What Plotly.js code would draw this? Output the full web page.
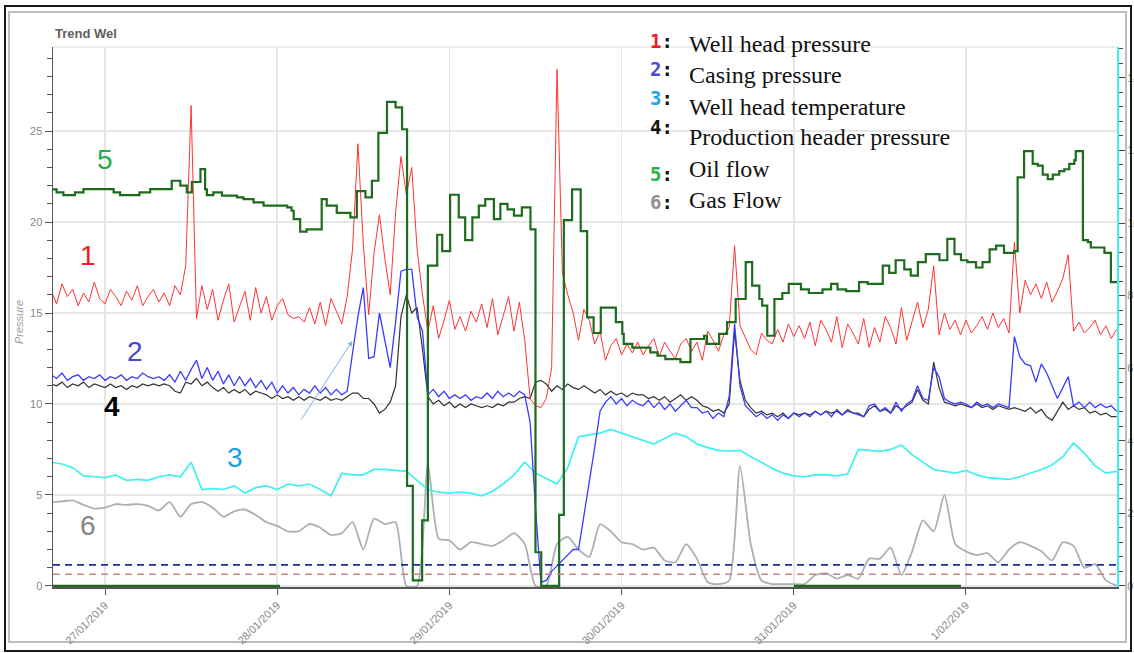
<!DOCTYPE html>
<html><head><meta charset="utf-8">
<script src="https://cdn.plot.ly/plotly-3.0.1.min.js"></script>
<style>
html,body{margin:0;padding:0;background:#fff;}
#wrap{position:relative;width:1134px;height:653px;overflow:hidden;background:#fff;}
#chart{position:absolute;left:0;top:0;width:1134px;height:653px;}
#outer{position:absolute;left:4px;top:5px;width:1128px;height:647px;border:2px solid #1a1a1a;box-sizing:border-box;pointer-events:none;}
#inner{position:absolute;left:8px;top:11px;width:1119px;height:632px;border:2px solid #bdbdbd;box-sizing:border-box;pointer-events:none;}
</style></head>
<body><div id="wrap"><div id="inner"></div><div id="chart"></div><div id="outer"></div></div>
<script>
// ---- time grids (hours from 27/01/2019 00:00) ----
const fastStart = -7.5, fastStep = 0.75, fastCount = 199;
const slowStart = -7.5, slowStep = 1.5, slowCount = 100;

// 1: Well head pressure
const wellHeadPressure = [
16.2,15.5,16.6,15.9,16.3,15.4,16.1,15.6,16.7,15.8,
15.5,16.3,15.9,15.4,16.2,15.7,16.5,15.4,15.9,16.3,
15.6,16.1,15.4,16.5,16.0,17.6,26.4,14.7,16.5,15.2,
16.3,14.6,15.7,16.6,14.5,15.4,16.2,14.6,16.4,15.0,
15.9,14.6,15.4,15.8,14.9,14.7,14.8,14.5,15.3,14.4,
15.6,14.3,15.8,15.1,14.4,15.9,18.5,24.3,18.8,14.9,
18.3,20.4,18.0,16.0,20.5,23.6,21.5,23.0,18.5,16.0,
14.0,15.4,13.6,14.6,15.7,14.1,14.8,14.0,15.1,14.5,
15.5,14.2,15.8,13.8,14.9,15.9,14.0,15.6,13.5,10.3,
9.9,9.8,10.3,12.0,28.4,17.2,16.0,15.0,13.5,15.2,
14.6,13.3,14.0,12.4,13.2,13.6,12.7,13.3,12.8,13.4,
12.7,13.2,13.6,12.6,13.4,12.9,12.5,13.3,13.6,12.9,
13.4,12.4,14.0,13.5,12.9,13.8,14.2,18.7,14.3,13.6,
13.0,12.7,13.9,13.5,13.3,14.1,13.4,14.4,13.7,14.3,
13.6,14.5,13.2,14.6,14.1,13.4,14.8,13.1,14.4,13.9,
13.3,14.7,13.1,14.2,13.4,14.8,14.2,13.3,15.3,13.5,
14.6,15.6,14.2,15.2,17.6,13.8,15.0,14.1,14.6,13.8,
14.6,13.9,14.3,14.8,14.1,15.0,14.2,14.7,13.9,18.9,
15.0,16.8,16.0,16.6,15.8,16.7,15.6,16.2,16.9,18.2,
14.0,14.5,13.9,14.2,14.6,13.8,14.3,13.6,14.1];

// 2: Casing pressure
const casingPressure = [
11.6,11.4,11.7,11.3,11.5,11.6,11.3,11.5,11.4,11.6,
11.3,11.5,11.4,11.6,11.3,11.5,11.4,11.7,11.5,11.4,
11.5,11.3,11.6,11.2,11.8,11.3,11.9,12.4,11.4,12.0,
11.3,11.8,11.1,11.6,11.0,11.5,11.0,11.4,10.9,11.3,
10.8,11.2,10.6,11.0,10.6,10.9,10.5,10.8,10.6,11.0,
10.6,10.9,10.5,10.8,10.5,10.7,12.8,14.8,16.4,12.5,
12.6,15.0,13.5,12.0,14.5,17.3,17.4,17.4,14.8,14.0,
10.5,10.8,10.4,10.7,10.3,10.5,10.3,10.5,10.2,10.4,
10.3,10.6,10.3,10.7,10.4,10.6,10.4,10.7,10.5,9.0,
4.3,0.2,0.3,0.8,1.1,1.4,1.7,2.0,2.0,3.8,
5.7,7.6,9.6,10.1,10.4,10.0,10.3,9.9,10.2,10.0,
9.9,10.2,9.8,10.1,9.7,10.0,9.6,9.9,10.2,9.8,
9.8,9.5,9.6,9.2,9.5,9.3,10.4,14.4,11.0,9.9,
9.6,9.3,9.5,9.2,9.4,9.1,9.4,9.2,9.5,9.3,
9.5,9.3,9.6,9.4,9.6,9.3,9.7,9.4,9.6,9.5,
9.4,9.3,9.9,10.0,9.6,9.8,9.5,10.1,9.6,10.0,
10.2,11.0,10.3,10.2,12.0,11.5,10.3,10.1,10.0,10.1,
10.0,9.8,10.1,9.9,10.0,9.8,10.0,9.9,9.8,13.7,
12.6,12.2,12.1,11.2,12.2,11.7,11.0,10.3,10.9,11.5,
9.9,10.1,9.8,10.1,9.8,10.0,9.8,9.9,9.6];

// 4: Production header pressure
const headerPressure = [
11.1,11.0,11.2,10.9,11.1,11.0,11.2,10.9,11.1,11.0,
10.9,11.1,10.9,11.0,10.8,11.0,10.9,11.1,11.0,11.1,
11.0,11.1,11.0,10.7,10.6,11.2,11.1,11.4,11.0,11.2,
10.9,10.7,10.9,10.6,10.8,10.6,10.8,10.5,10.7,10.6,
10.5,10.3,10.5,10.3,10.4,10.2,10.4,10.2,10.4,10.3,
10.2,10.4,10.2,10.3,10.2,10.4,10.6,10.6,10.3,10.3,
10.0,9.5,9.7,10.1,11.0,14.8,16.0,15.0,15.3,13.0,
10.4,10.0,10.2,9.9,10.1,9.8,10.0,9.8,10.0,9.9,
9.8,9.9,9.8,10.0,9.9,10.1,10.1,10.3,10.4,10.3,
11.2,11.3,11.1,10.7,11.0,10.8,11.1,10.9,10.8,11.0,
10.8,10.6,10.8,10.5,10.7,10.5,10.6,10.4,10.6,10.5,
10.5,10.3,10.4,10.2,10.4,10.1,10.3,10.5,10.2,10.4,
10.2,9.9,9.8,9.6,9.7,9.5,10.0,14.0,11.3,10.2,
9.8,9.5,9.6,9.4,9.5,9.3,9.5,9.2,9.5,9.4,
9.5,9.4,9.6,9.4,9.6,9.5,9.6,9.4,9.7,9.5,
9.5,9.3,9.7,9.9,9.6,9.7,9.5,9.9,9.7,9.9,
10.1,10.8,10.2,10.0,12.3,10.9,10.1,10.0,9.9,10.0,
9.9,9.8,10.0,9.8,9.9,9.7,9.9,9.8,9.7,9.8,
9.7,9.6,9.8,9.5,9.7,9.3,9.1,9.6,10.1,9.7,
9.9,9.7,9.8,9.5,9.6,9.4,9.5,9.3,9.3];

// 3: Well head temperature
const wellHeadTemperature = [
6.8,6.7,6.5,6.05,6.0,5.95,6.1,5.8,5.85,5.8,
6.0,6.1,6.0,6.8,5.3,5.35,5.3,5.5,5.1,5.4,
5.5,5.3,5.6,5.5,5.6,5.3,4.95,6.2,6.1,6.1,
6.4,6.4,6.35,6.3,5.8,5.3,5.15,5.1,5.15,5.1,
4.95,5.2,5.6,6.1,6.8,6.2,5.9,5.6,6.5,8.2,
8.3,8.4,8.6,8.4,8.2,8.0,7.8,8.1,8.4,8.2,
7.8,7.6,7.45,7.4,7.45,7.1,6.8,6.45,6.2,6.05,
6.0,6.1,6.1,6.05,6.15,7.5,7.45,7.4,7.5,7.75,
7.2,6.8,6.4,6.3,6.2,6.35,6.1,5.95,5.9,5.85,
6.0,6.2,6.4,6.65,7.1,7.85,7.3,6.6,6.2,6.3];

// 6: Gas flow
const gasFlow = [
4.6,4.65,4.7,4.45,4.25,4.3,4.5,4.45,4.5,4.4,
4.15,4.6,3.8,4.5,4.6,4.3,3.8,4.1,4.2,3.9,
3.5,3.3,3.0,3.0,3.4,3.2,2.8,2.9,3.5,2.0,
3.7,3.4,3.5,0.0,0.0,6.7,2.6,2.5,2.0,2.4,
2.3,2.2,2.5,2.9,2.3,0.0,0.0,2.3,2.7,2.0,
1.6,3.4,3.0,2.4,2.3,2.0,2.1,1.4,1.3,2.3,
1.5,0.2,0.1,0.3,6.6,2.3,0.3,0.1,0.1,0.1,
0.1,0.6,0.7,0.4,0.6,0.4,1.5,1.5,2.1,0.6,
1.9,3.6,3.0,5.0,2.3,1.9,1.7,1.8,1.3,2.0,
2.4,2.2,1.9,1.4,2.4,2.2,1.0,1.2,0.3,0.0];

// 5: Oil flow (step changes)
const oilFlowHours = [-7.3,-6.75,-5.8,-4.2,-3.0,1.2,2.1,4.8,6.3,9.3,
10.5,11.4,12.1,13.3,13.95,14.2,15.1,16.3,18.4,19.3,
20.7,22.1,25.4,26.0,26.3,27.2,28.1,30.2,30.9,32.3,
34.2,35.1,36.3,37.2,38.1,39.3,40.5,41.4,42.1,42.9,
44.2,45.0,46.3,47.0,48.1,49.3,50.2,51.2,52.1,53.0,
54.2,55.1,56.1,57.0,58.1,59.3,60.0,60.8,63.3,63.95,
65.1,66.3,67.2,68.1,69.1,71.2,72.1,72.3,73.5,76.0,
77.0,78.1,80.2,81.6,83.5,83.9,85.6,86.7,87.9,89.3,
90.2,91.2,91.6,92.3,93.3,94.4,95.3,97.0,98.1,100.0,
101.2,102.1,103.3,105.1,106.3,108.4,109.3,110.2,111.4,112.3,
113.3,114.4,116.3,117.4,118.4,119.3,120.2,121.4,122.3,123.3,
124.2,125.3,126.7,127.2,128.1,129.3,130.0,130.7,131.4,132.1,
133.0,133.7,134.4,135.1,135.3,136.3,137.0,137.4,139.3,140.2,
141.2];
const oilFlow = [21.8,21.63,21.48,21.63,21.81,21.63,21.48,21.63,21.81,22.27,
22.0,21.63,22.2,22.91,21.8,21.48,21.63,21.45,21.35,21.26,
21.08,20.9,20.8,20.62,20.16,19.47,19.6,21.26,20.9,20.5,
20.26,21.7,21.35,22.27,24.9,26.6,26.3,25.1,5.5,0.3,
3.6,17.6,19.3,18.4,21.5,20.26,19.0,20.26,20.9,21.26,
20.16,21.0,20.7,20.35,20.8,19.6,1.85,0.0,3.9,20.1,
21.8,19.5,14.76,13.9,15.3,14.5,13.85,13.3,13.1,12.84,
12.65,12.47,12.3,13.57,13.75,13.3,13.85,14.5,15.77,17.8,
16.5,15.77,15.4,13.75,15.77,16.1,16.6,16.3,16.1,16.3,
16.6,16.3,16.2,16.7,16.6,17.6,17.2,17.9,17.4,17.05,
17.8,18.24,17.9,19.07,18.24,17.9,17.8,17.5,17.8,18.5,
18.7,18.3,18.4,22.45,23.9,23.2,23.1,22.6,22.36,22.6,
22.8,22.9,23.2,23.4,23.9,19.0,18.9,18.6,18.3,16.7,
16.7];

// zero-level flow segments along the bottom
const zeroFlowHours = [-7.25, 24.4, null, 96.0, 119.3];
const zeroFlow = [0, 0, null, 0, 0];

// limit lines (right axis)
const limitHours = [-7.25, 141.05];
const upperLimit = [0.58, 0.58];
const lowerLimit = [0.32, 0.32];

// axis ticks
const dayTicks = ['2019-01-27','2019-01-28','2019-01-29','2019-01-30','2019-01-31','2019-02-01'];
const dayLabels = ['27/01/2019','28/01/2019','29/01/2019','30/01/2019','31/01/2019','1/02/2019'];
const xRangeHours = [-7.25, 141.05];

// ---- helpers ----
const T0 = Date.UTC(2019,0,27);
function toDate(h){ if(h===null) return null; return new Date(T0 + h*3600000).toISOString().slice(0,19).replace('T',' '); }
function grid(s, d, n){ const a=[]; for(let i=0;i<n;i++) a.push(toDate(s+d*i)); return a; }
const fastX = grid(fastStart, fastStep, fastCount);
const slowX = grid(slowStart, slowStep, slowCount);

const SANS = 'Liberation Sans, Arial, sans-serif';
const SERIF = 'Liberation Serif, Times New Roman, serif';
const MONO = 'DejaVu Sans Mono, monospace';
// pixel -> paper helpers (plot area 53..1117 x 47..587)
const PX = p => (p-53)/1064;
const PY = p => (587-p)/540;

const traces = [
 {x: limitHours.map(toDate), y: upperLimit, yaxis:'y2', mode:'lines', line:{color:'#1f2f9a', width:1.6, dash:'7px,5px'}, hoverinfo:'skip'},
 {x: limitHours.map(toDate), y: lowerLimit, yaxis:'y2', mode:'lines', line:{color:'#c98585', width:1.6, dash:'7px,5px'}, hoverinfo:'skip'},
 {x: slowX, y: gasFlow, mode:'lines', line:{color:'#a9b0b7', width:1.8, shape:'spline', smoothing:0.6}},
 {x: slowX, y: wellHeadTemperature, mode:'lines', line:{color:'#3ff0f0', width:1.7}},
 {x: fastX, y: headerPressure, mode:'lines', line:{color:'#333333', width:1.2}},
 {x: fastX, y: casingPressure, mode:'lines', line:{color:'#3b3bff', width:1.3}},
 {x: fastX, y: wellHeadPressure, mode:'lines', line:{color:'#ff3333', width:1.0}},
 {x: zeroFlowHours.map(toDate), y: zeroFlow, mode:'lines', line:{color:'#1e6b1e', width:2.2}, connectgaps:false},
 {x: oilFlowHours.map(toDate), y: oilFlow, mode:'lines', line:{color:'#1e6b1e', width:2.2, shape:'hv'}}
];

const annotations = [];
annotations.push({xref:'paper', yref:'paper', x:0, y:PY(34), xanchor:'left', yanchor:'middle', showarrow:false,
  text:'<b>Trend Wel</b>', font:{family:SANS, size:13, color:'#5e5e5e'}});
annotations.push({xref:'paper', yref:'paper', x:PX(19), y:PY(322), xanchor:'center', yanchor:'middle', showarrow:false,
  textangle:-90, text:'<i>Pressure</i>', font:{family:SANS, size:11, color:'#9a9a9a'}});

const bigLabels = [
 ['5','#26ad48',105,159],['1','#ee1d25',88,255],['2','#4646cf',134.5,351.5],
 ['<b>4</b>','#000000',112,406.5],['3','#1b9fe2',235,457],['6','#858585',87.5,525]];
bigLabels.forEach(b=>annotations.push({xref:'paper', yref:'paper', x:PX(b[2]), y:PY(b[3]), xanchor:'center', yanchor:'middle',
  showarrow:false, text:b[0], font:{family:SANS, size:28, color:b[1]}}));

const legendNums = [['1','#ee1d25',41],['2','#4b4bd6',69],['3','#1ea3ea',97.5],['4','#111111',126.5],['5','#28b044',173.5],['6','#8f8f8f',201.5]];
legendNums.forEach(n=>annotations.push({xref:'paper', yref:'paper', x:PX(648), y:PY(n[2]), xanchor:'left', yanchor:'middle',
  showarrow:false, text:'<b><span style="color:'+n[1]+'">'+n[0]+'</span>:</b>', font:{family:MONO, size:19, color:'#111'}}));

const legendText = [['Well head pressure',44],['Casing pressure',75],['Well head temperature',107],['Production header pressure',137],['Oil flow',169],['Gas Flow',200]];
legendText.forEach(t=>annotations.push({xref:'paper', yref:'paper', x:PX(687), y:PY(t[1]), xanchor:'left', yanchor:'middle',
  showarrow:false, text:t[0], font:{family:SERIF, size:24, color:'#111'}}));

annotations.push({x:toDate(34.47), y:13.46, xref:'x', yref:'y', showarrow:true, text:'', ax:-52, ay:80,
  arrowcolor:'#86aedb', arrowwidth:1, arrowhead:2, arrowsize:1});

const layout = {
  width:1134, height:653,
  margin:{l:53, r:17, t:47, b:66, pad:0},
  paper_bgcolor:'rgba(0,0,0,0)', plot_bgcolor:'rgba(0,0,0,0)',
  showlegend:false,
  xaxis:{type:'date', range:xRangeHours.map(toDate), tickvals:dayTicks, ticktext:dayLabels, tickangle:-45,
    tickfont:{family:SANS, size:11, color:'#888'}, ticks:'outside', ticklen:6, tickcolor:'#555',
    showline:true, linecolor:'#555', linewidth:1.5, showgrid:true, gridcolor:'#e7e7e7', gridwidth:1.5, zeroline:false},
  yaxis:{range:[-0.06, 29.62], tick0:0, dtick:5, ticks:'outside', ticklen:7, tickcolor:'#555',
    tickfont:{family:SANS, size:11, color:'#888'}, showline:true, linecolor:'#555', linewidth:1.5,
    showgrid:true, gridcolor:'#e7e7e7', gridwidth:1.5, zeroline:false,
    minor:{dtick:1, ticks:'outside', ticklen:5, tickcolor:'#555', showgrid:false}},
  yaxis2:{overlaying:'y', side:'right', range:[-0.03, 14.85], tick0:0, dtick:2, ticks:'outside', ticklen:6, tickcolor:'#444',
    tickfont:{family:SANS, size:11, color:'#888'}, showline:true, linecolor:'#3ff0f0', linewidth:2,
    showgrid:false, zeroline:false, minor:{dtick:0.4, ticks:'outside', ticklen:4, tickcolor:'#444', showgrid:false}},
  shapes:[{type:'line', xref:'paper', yref:'paper', x0:0, x1:1, y0:1, y1:1, line:{color:'#e7e7e7', width:1.5}}],
  annotations:annotations
};
Plotly.newPlot('chart', traces, layout, {displayModeBar:false, staticPlot:true});
</script>
</body></html>
